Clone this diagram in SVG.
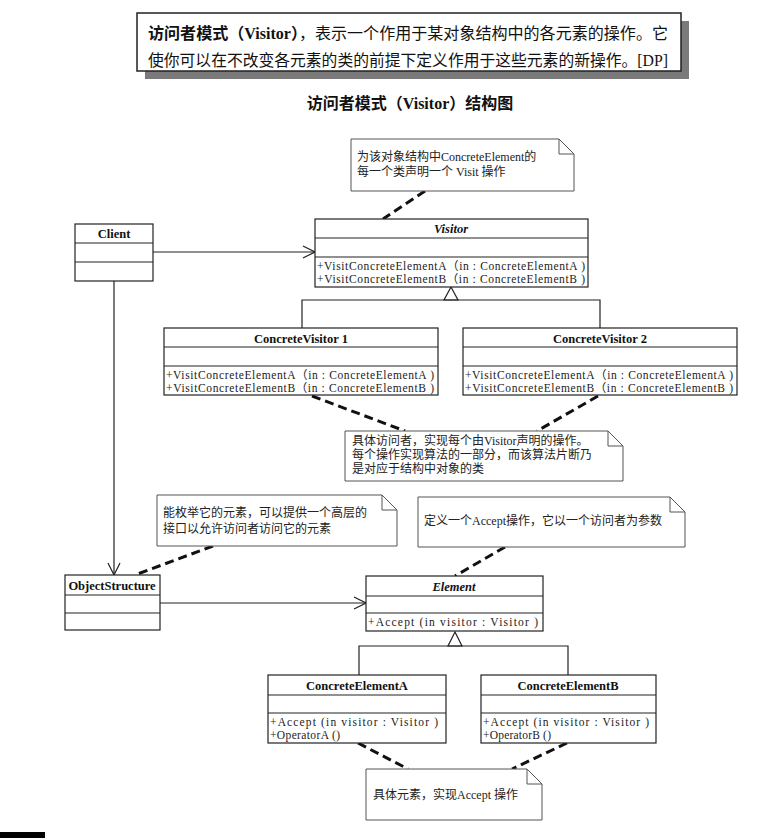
<svg xmlns="http://www.w3.org/2000/svg" width="770" height="838" viewBox="0 0 770 838">
<defs>
<style>
.box{fill:#fff;stroke:#222;stroke-width:1.2}
.ln{stroke:#222;stroke-width:1.2;fill:none}
.dash{stroke:#111;stroke-width:3;stroke-dasharray:9,5;fill:none}
.note{fill:#fff;stroke:#555;stroke-width:1}
.nm{font-family:"Liberation Serif","Noto Sans CJK SC",serif;font-weight:bold;font-size:12.5px;text-anchor:middle;fill:#111}
.ab{font-style:italic}
.mt{font-family:"Liberation Serif","Noto Sans CJK SC",serif;font-size:11.5px;fill:#222}
.nt{font-family:"Liberation Serif","Noto Sans CJK SC",serif;font-size:12px;fill:#222}
.hd{font-family:"Liberation Serif","Noto Sans CJK SC",serif;font-size:16px;fill:#111}
</style>
<marker id="open" markerWidth="14" markerHeight="14" refX="13" refY="7" orient="auto" markerUnits="userSpaceOnUse">
<path d="M1,1 L13,7 L1,13" fill="none" stroke="#222" stroke-width="1.2"/>
</marker>
</defs>
<rect width="770" height="838" fill="#fff"/>

<g id="header">
<rect x="145" y="21" width="544" height="58" fill="#7a7a7a"/>
<rect x="137" y="13" width="544" height="58" fill="#fff" stroke="#222" stroke-width="1.5"/>
<text class="hd" x="148" y="39" textLength="520" lengthAdjust="spacingAndGlyphs"><tspan font-weight="bold">访问者模式（Visitor）</tspan>，表示一个作用于某对象结构中的各元素的操作。它</text>
<text class="hd" x="148" y="66" textLength="520" lengthAdjust="spacingAndGlyphs">使你可以在不改变各元素的类的前提下定义作用于这些元素的新操作。[DP]</text>
<text class="hd" x="410" y="109" font-size="15" font-weight="bold" text-anchor="middle">访问者模式（Visitor）结构图</text>
</g>

<g id="connectors">
<line class="ln" x1="153" y1="252" x2="315" y2="252" marker-end="url(#open)"/>
<line class="ln" x1="114" y1="281" x2="114" y2="575" marker-end="url(#open)"/>
<line class="ln" x1="160" y1="603" x2="366" y2="603" marker-end="url(#open)"/>
<path class="ln" d="M302,328 V300 H600 V328"/>
<path class="ln" d="M451,287 L458,300 H444 Z" fill="#fff"/>
<path class="ln" d="M359,675 V646 H568 V675"/>
<path class="ln" d="M455,632 L462,646 H448 Z" fill="#fff"/>
<line class="dash" x1="425" y1="191" x2="383" y2="219"/>
<line class="dash" x1="312" y1="396" x2="405" y2="431"/>
<line class="dash" x1="598" y1="396" x2="537" y2="431"/>
<line class="dash" x1="213" y1="546" x2="135" y2="575"/>
<line class="dash" x1="505" y1="547" x2="455" y2="576"/>
<line class="dash" x1="358" y1="743" x2="408" y2="769"/>
<line class="dash" x1="567" y1="743" x2="512" y2="769"/>
</g>

<g id="note1">
<path class="note" d="M351,139 H559 L574,154 V191 H351 Z M559,139 V154 H574"/>
<text class="nt" x="357" y="161">为该对象结构中ConcreteElement的</text>
<text class="nt" x="357" y="176">每一个类声明一个 Visit 操作</text>
</g>

<g id="Visitor">
<rect class="box" x="315" y="219" width="273" height="68"/>
<line class="ln" x1="315" y1="238" x2="588" y2="238"/>
<line class="ln" x1="315" y1="257" x2="588" y2="257"/>
<text class="nm ab" x="451" y="233">Visitor</text>
<text class="mt" x="317" y="270" textLength="268" lengthAdjust="spacing">+VisitConcreteElementA（in  : ConcreteElementA )</text>
<text class="mt" x="317" y="283" textLength="268" lengthAdjust="spacing">+VisitConcreteElementB（in  : ConcreteElementB )</text>
</g>

<g id="Client">
<rect class="box" x="75" y="224" width="78" height="57"/>
<line class="ln" x1="75" y1="243" x2="153" y2="243"/>
<line class="ln" x1="75" y1="262" x2="153" y2="262"/>
<text class="nm" x="114" y="238">Client</text>
</g>

<g id="ConcreteVisitor1">
<rect class="box" x="164" y="328" width="274" height="67"/>
<line class="ln" x1="164" y1="347" x2="438" y2="347"/>
<line class="ln" x1="164" y1="366" x2="438" y2="366"/>
<text class="nm" x="301" y="343">ConcreteVisitor 1</text>
<text class="mt" x="166" y="379" textLength="268" lengthAdjust="spacing">+VisitConcreteElementA（in  : ConcreteElementA )</text>
<text class="mt" x="166" y="392" textLength="268" lengthAdjust="spacing">+VisitConcreteElementB（in  : ConcreteElementB )</text>
</g>

<g id="ConcreteVisitor2">
<rect class="box" x="463" y="328" width="274" height="67"/>
<line class="ln" x1="463" y1="347" x2="737" y2="347"/>
<line class="ln" x1="463" y1="366" x2="737" y2="366"/>
<text class="nm" x="600" y="343">ConcreteVisitor 2</text>
<text class="mt" x="465" y="379" textLength="268" lengthAdjust="spacing">+VisitConcreteElementA（in  : ConcreteElementA )</text>
<text class="mt" x="465" y="392" textLength="268" lengthAdjust="spacing">+VisitConcreteElementB（in  : ConcreteElementB )</text>
</g>

<g id="note2">
<path class="note" d="M345,431 H608 L623,446 V481 H345 Z M608,431 V446 H623"/>
<text class="nt" x="352" y="445">具体访问者，实现每个由Visitor声明的操作。</text>
<text class="nt" x="352" y="459">每个操作实现算法的一部分，而该算法片断乃</text>
<text class="nt" x="352" y="473">是对应于结构中对象的类</text>
</g>

<g id="note3">
<path class="note" d="M157,495 H382 L397,510 V546 H157 Z M382,495 V510 H397"/>
<text class="nt" x="163" y="517">能枚举它的元素，可以提供一个高层的</text>
<text class="nt" x="163" y="533">接口以允许访问者访问它的元素</text>
</g>

<g id="note4">
<path class="note" d="M418,497 H670 L685,512 V547 H418 Z M670,497 V512 H685"/>
<text class="nt" x="424" y="525">定义一个Accept操作，它以一个访问者为参数</text>
</g>

<g id="ObjectStructure">
<rect class="box" x="65" y="575" width="95" height="55"/>
<line class="ln" x1="65" y1="595" x2="160" y2="595"/>
<line class="ln" x1="65" y1="613" x2="160" y2="613"/>
<text class="nm" x="112" y="590">ObjectStructure</text>
</g>

<g id="Element">
<rect class="box" x="366" y="576" width="177" height="55"/>
<line class="ln" x1="366" y1="596" x2="543" y2="596"/>
<line class="ln" x1="366" y1="613" x2="543" y2="613"/>
<text class="nm ab" x="454" y="591">Element</text>
<text class="mt" x="368" y="626" textLength="170" lengthAdjust="spacing">+Accept (in visitor  : Visitor )</text>
</g>

<g id="ConcreteElementA">
<rect class="box" x="268" y="675" width="178" height="68"/>
<line class="ln" x1="268" y1="695" x2="446" y2="695"/>
<line class="ln" x1="268" y1="713" x2="446" y2="713"/>
<text class="nm" x="357" y="690">ConcreteElementA</text>
<text class="mt" x="270" y="726" textLength="168" lengthAdjust="spacing">+Accept (in visitor  : Visitor )</text>
<text class="mt" x="270" y="739" textLength="70" lengthAdjust="spacing">+OperatorA ()</text>
</g>

<g id="ConcreteElementB">
<rect class="box" x="481" y="675" width="175" height="68"/>
<line class="ln" x1="481" y1="695" x2="656" y2="695"/>
<line class="ln" x1="481" y1="713" x2="656" y2="713"/>
<text class="nm" x="568" y="690">ConcreteElementB</text>
<text class="mt" x="483" y="726" textLength="166" lengthAdjust="spacing">+Accept (in visitor  : Visitor )</text>
<text class="mt" x="483" y="739" textLength="68" lengthAdjust="spacing">+OperatorB ()</text>
</g>

<g id="note5">
<path class="note" d="M366,769 H527 L542,784 V820 H366 Z M527,769 V784 H542"/>
<text class="nt" x="373" y="799">具体元素，实现Accept 操作</text>
</g>

<rect x="0" y="832" width="45" height="6" fill="#000"/>
</svg>
